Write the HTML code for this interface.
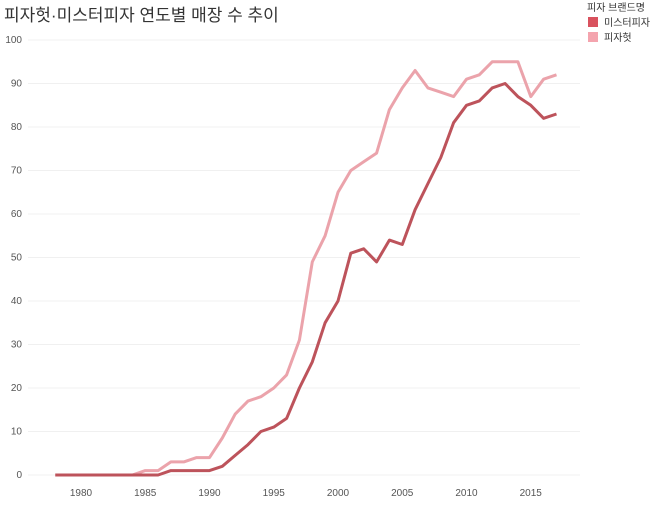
<!DOCTYPE html>
<html><head><meta charset="utf-8"><style>
body{margin:0;background:#fff;width:658px;height:505px;overflow:hidden;font-family:"Liberation Sans","Noto Sans CJK KR",sans-serif}
</style></head><body>
<svg id="s" width="658" height="505" xmlns="http://www.w3.org/2000/svg" font-family="Liberation Sans, Noto Sans CJK KR, sans-serif">
<text x="4" y="21" font-size="17" fill="#333">피자헛·미스터피자 연도별 매장 수 추이</text>
<text x="587" y="11" font-size="10" fill="#333">피자 브랜드명</text>
<rect x="588" y="17" width="10" height="10" fill="#d9525e"/>
<text x="604" y="26" font-size="10" fill="#333">미스터피자</text>
<rect x="588" y="32" width="10" height="10" fill="#f4a4ae"/>
<text x="604" y="41" font-size="10" fill="#333">피자헛</text>
<g id="grid"></g>
<g id="lines"></g>
</svg>
<script>
var s='http://www.w3.org/2000/svg';
function Y(v){return 475-v*4.35}
function X(y){return 81+(y-1980)*12.85}
var g=document.getElementById('grid');
for(var v=0;v<=100;v+=10){
 var l=document.createElementNS(s,'line');l.setAttribute('x1',28);l.setAttribute('x2',580);l.setAttribute('y1',Y(v));l.setAttribute('y2',Y(v));l.setAttribute('stroke','#f0f0f0');g.appendChild(l);
 var t=document.createElementNS(s,'text');t.setAttribute('x',22);t.setAttribute('y',Y(v)+3);t.setAttribute('font-size','10');t.setAttribute('text-anchor','end');t.setAttribute('fill','#555');t.textContent=v;g.appendChild(t);
}
for(var yr=1980;yr<=2015;yr+=5){
 var t=document.createElementNS(s,'text');t.setAttribute('x',X(yr));t.setAttribute('y',496);t.setAttribute('font-size','10');t.setAttribute('text-anchor','middle');t.setAttribute('fill','#555');t.textContent=yr;g.appendChild(t);
}
var hut=[0,0,0,0,0,0,0,1,1,3,3,4,4,8.5,14,17,18,20,23,31,49,55,65,70,72,74,84,89,93,89,88,87,91,92,95,95,95,87,91,92];
var mr=[0,0,0,0,0,0,0,0,0,1,1,1,1,2,4.5,7,10,11,13,20,26,35,40,51,52,49,54,53,61,67,73,81,85,86,89,90,87,85,82,83];
function line(d,c){var p=d.map(function(v,i){return X(1978+i).toFixed(1)+','+Y(v).toFixed(1)}).join(' ');
 var e=document.createElementNS(s,'polyline');e.setAttribute('points',p);e.setAttribute('fill','none');e.setAttribute('stroke',c);e.setAttribute('stroke-width','3');e.setAttribute('stroke-linejoin','round');document.getElementById('lines').appendChild(e);}
line(hut,'#eba3ab');line(mr,'#bd535b');
</script>
</body></html>
